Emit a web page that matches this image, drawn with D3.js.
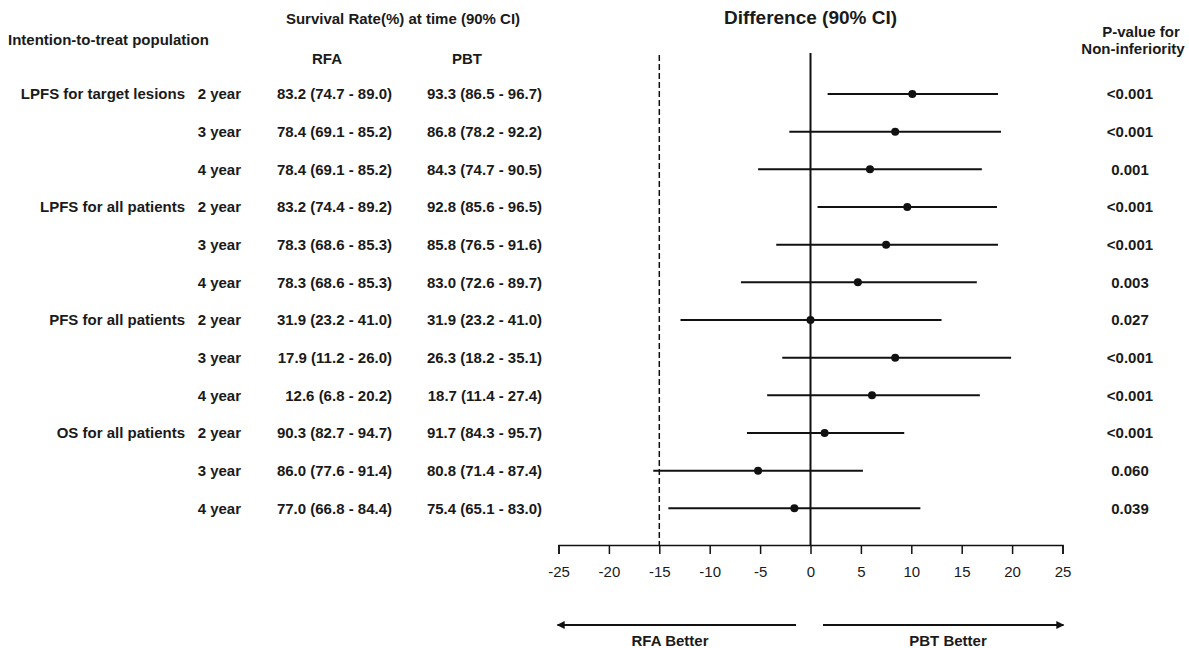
<!DOCTYPE html>
<html><head><meta charset="utf-8">
<script src="https://cdn.jsdelivr.net/npm/d3@7"></script>
<style>
html,body{margin:0;padding:0;background:#fff;}
svg text{font-family:"Liberation Sans",Arial,sans-serif;fill:#1a1a1a;}
</style></head>
<body><svg id="c" width="1189" height="648"></svg>
<script>
const groups = ["LPFS for target lesions","","","LPFS for all patients","","","PFS for all patients","","","OS for all patients","",""];
const years = ["2 year","3 year","4 year","2 year","3 year","4 year","2 year","3 year","4 year","2 year","3 year","4 year"];
const rfa = ["83.2 (74.7 - 89.0)","78.4 (69.1 - 85.2)","78.4 (69.1 - 85.2)","83.2 (74.4 - 89.2)","78.3 (68.6 - 85.3)","78.3 (68.6 - 85.3)","31.9 (23.2 - 41.0)","17.9 (11.2 - 26.0)","12.6 (6.8 - 20.2)","90.3 (82.7 - 94.7)","86.0 (77.6 - 91.4)","77.0 (66.8 - 84.4)"];
const pbt = ["93.3 (86.5 - 96.7)","86.8 (78.2 - 92.2)","84.3 (74.7 - 90.5)","92.8 (85.6 - 96.5)","85.8 (76.5 - 91.6)","83.0 (72.6 - 89.7)","31.9 (23.2 - 41.0)","26.3 (18.2 - 35.1)","18.7 (11.4 - 27.4)","91.7 (84.3 - 95.7)","80.8 (71.4 - 87.4)","75.4 (65.1 - 83.0)"];
const diffEst = [10.1, 8.4, 5.9, 9.6, 7.5, 4.7, 0.0, 8.4, 6.1, 1.4, -5.2, -1.6];
const diffLow = [1.7, -2.1, -5.2, 0.7, -3.4, -6.9, -12.9, -2.8, -4.3, -6.3, -15.6, -14.1];
const diffHigh = [18.6, 18.9, 17.0, 18.5, 18.6, 16.5, 13.0, 19.9, 16.8, 9.3, 5.2, 10.9];
const pvals = ["<0.001","<0.001","0.001","<0.001","<0.001","0.003","0.027","<0.001","<0.001","<0.001","0.060","0.039"];
const tickVals = [-25,-20,-15,-10,-5,0,5,10,15,20,25];
const margin = -15;

const svg = d3.select("#c");
const x = d3.scaleLinear().domain([-25,25]).range([558.5,1062.5]);
const y = d3.scalePoint().domain(d3.range(12)).range([94,508.3]);
const fs = 15;

// headers
svg.append("text").attr("x",8).attr("y",40).attr("dy","0.35em").attr("font-size",fs).attr("font-weight","bold").text("Intention-to-treat population");
svg.append("text").attr("x",403).attr("y",19).attr("dy","0.35em").attr("text-anchor","middle").attr("font-size",fs).attr("font-weight","bold").text("Survival Rate(%) at time (90% CI)");
svg.append("text").attr("x",327).attr("y",59).attr("dy","0.35em").attr("text-anchor","middle").attr("font-size",fs).attr("font-weight","bold").text("RFA");
svg.append("text").attr("x",467).attr("y",59).attr("dy","0.35em").attr("text-anchor","middle").attr("font-size",fs).attr("font-weight","bold").text("PBT");
svg.append("text").attr("x",x(0)).attr("y",17).attr("dy","0.35em").attr("text-anchor","middle").attr("font-size",19).attr("font-weight","bold").text("Difference (90% CI)");
svg.append("text").attr("x",1141).attr("y",32).attr("dy","0.35em").attr("text-anchor","middle").attr("font-size",fs).attr("font-weight","bold").text("P-value for");
svg.append("text").attr("x",1133).attr("y",49).attr("dy","0.35em").attr("text-anchor","middle").attr("font-size",fs).attr("font-weight","bold").text("Non-inferiority");

const rows = svg.append("g").selectAll("g").data(d3.range(12)).join("g");
rows.append("text").attr("x",185).attr("y",i=>y(i)).attr("dy","0.35em").attr("text-anchor","end").attr("font-size",fs).attr("font-weight","bold").text(i=>groups[i]);
rows.append("text").attr("x",241).attr("y",i=>y(i)).attr("dy","0.35em").attr("text-anchor","end").attr("font-size",fs).attr("font-weight","bold").text(i=>years[i]);
rows.append("text").attr("x",392).attr("y",i=>y(i)).attr("dy","0.35em").attr("text-anchor","end").attr("font-size",fs).attr("font-weight","bold").text(i=>rfa[i]);
rows.append("text").attr("x",542).attr("y",i=>y(i)).attr("dy","0.35em").attr("text-anchor","end").attr("font-size",fs).attr("font-weight","bold").text(i=>pbt[i]);
rows.append("text").attr("x",1130).attr("y",i=>y(i)).attr("dy","0.35em").attr("text-anchor","middle").attr("font-size",fs).attr("font-weight","bold").text(i=>pvals[i]);

// reference lines
svg.append("line").attr("x1",x(margin)).attr("x2",x(margin)).attr("y1",55).attr("y2",545).attr("stroke","#111").attr("stroke-width",1.5).attr("stroke-dasharray","6,3");
svg.append("line").attr("x1",x(0)).attr("x2",x(0)).attr("y1",53).attr("y2",545).attr("stroke","#111").attr("stroke-width",2);

// CI lines and points
rows.append("line").attr("x1",i=>x(diffLow[i])).attr("x2",i=>x(diffHigh[i])).attr("y1",i=>y(i)).attr("y2",i=>y(i)).attr("stroke","#111").attr("stroke-width",2);
rows.append("circle").attr("cx",i=>x(diffEst[i])).attr("cy",i=>y(i)).attr("r",4).attr("fill","#111");

// axis
const ax = svg.append("g").attr("transform","translate(0,545)").call(d3.axisBottom(x).tickValues(tickVals).tickSize(9).tickPadding(12).tickFormat(d => String(d)));
ax.select(".domain").attr("stroke","#111").attr("stroke-width",1.5);
ax.selectAll(".tick line").attr("stroke","#111").attr("stroke-width",1.5);
ax.selectAll(".tick text").attr("font-size",15).attr("fill","#1a1a1a").style("font-family","'Liberation Sans',Arial,sans-serif");

// arrows
const defs = svg.append("defs");
defs.append("marker").attr("id","ah").attr("viewBox","0 0 10 10").attr("refX",9).attr("refY",5).attr("markerWidth",5).attr("markerHeight",4).attr("orient","auto-start-reverse")
  .append("path").attr("d","M0,0 L10,5 L0,10 z").attr("fill","#111");
svg.append("line").attr("x1",796).attr("x2",x(-25)-1).attr("y1",625).attr("y2",625).attr("stroke","#111").attr("stroke-width",2).attr("marker-end","url(#ah)");
svg.append("line").attr("x1",823).attr("x2",x(25)+1).attr("y1",625).attr("y2",625).attr("stroke","#111").attr("stroke-width",2).attr("marker-end","url(#ah)");
svg.append("text").attr("x",670).attr("y",641).attr("dy","0.35em").attr("text-anchor","middle").attr("font-size",15).attr("font-weight","bold").text("RFA Better");
svg.append("text").attr("x",948).attr("y",641).attr("dy","0.35em").attr("text-anchor","middle").attr("font-size",15).attr("font-weight","bold").text("PBT Better");
</script></body></html>
